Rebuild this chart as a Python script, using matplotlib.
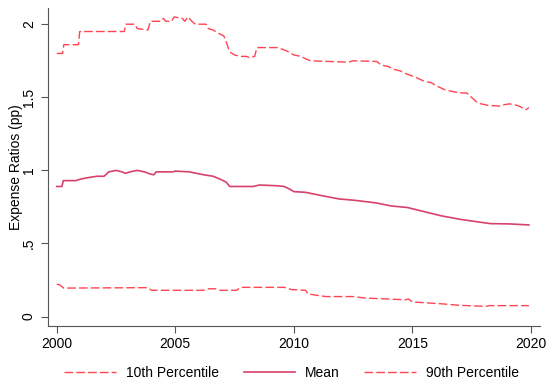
import numpy as np
import matplotlib
matplotlib.use("Agg")
import matplotlib.pyplot as plt

plt.rcParams['font.family'] = ['Liberation Sans', 'DejaVu Sans']

# 90th percentile (upper dashed line)
p90_year = [2000.0, 2000.25, 2000.3, 2000.92, 2000.97, 2002.85, 2002.92, 2003.3, 2003.4, 2003.85,
            2003.95, 2004.4, 2004.5, 2004.6, 2004.85, 2004.95, 2005.3, 2005.4, 2005.55, 2005.7,
            2005.85, 2006.3, 2006.4, 2006.6, 2006.8, 2007.05, 2007.15, 2007.3, 2007.5, 2007.75,
            2008.0, 2008.15, 2008.35, 2008.45, 2009.3, 2009.5, 2009.8, 2010.0, 2010.3, 2010.55,
            2010.7, 2012.3, 2012.5, 2013.5, 2013.7, 2014.0, 2014.25, 2014.5, 2014.75, 2015.1,
            2015.5, 2015.8, 2016.0, 2016.4, 2017.0, 2017.3, 2017.5, 2017.7, 2017.9, 2018.2,
            2018.7, 2018.9, 2019.1, 2019.3, 2019.5, 2019.8, 2019.92]
p90_val = [1.80, 1.80, 1.86, 1.86, 1.95, 1.95, 2.00, 2.00, 1.97, 1.96,
           2.02, 2.02, 2.04, 2.02, 2.02, 2.05, 2.04, 2.02, 2.05, 2.02,
           2.00, 2.00, 1.97, 1.96, 1.94, 1.92, 1.88, 1.81, 1.79, 1.78,
           1.78, 1.77, 1.78, 1.84, 1.84, 1.83, 1.81, 1.79, 1.78, 1.76,
           1.75, 1.74, 1.75, 1.745, 1.72, 1.71, 1.69, 1.68, 1.66, 1.64,
           1.61, 1.60, 1.58, 1.55, 1.53, 1.53, 1.50, 1.47, 1.455, 1.445,
           1.44, 1.45, 1.455, 1.45, 1.44, 1.415, 1.43]

# mean (solid line)
mean_year = [2000.0, 2000.22, 2000.28, 2000.8, 2001.0, 2001.3, 2001.7, 2002.0, 2002.2, 2002.5,
             2002.75, 2002.9, 2003.1, 2003.4, 2003.7, 2003.95, 2004.1, 2004.2, 2004.9, 2005.0,
             2005.6, 2005.9, 2006.2, 2006.6, 2006.9, 2007.15, 2007.3, 2008.3, 2008.55, 2009.3,
             2009.6, 2009.85, 2010.0, 2010.5, 2011.1, 2011.9, 2012.6, 2013.5, 2014.1, 2014.8,
             2015.5, 2016.2, 2017.0, 2017.85, 2018.3, 2019.1, 2019.92]
mean_val = [0.89, 0.89, 0.93, 0.93, 0.94, 0.95, 0.96, 0.96, 0.99, 1.00,
            0.99, 0.98, 0.99, 1.00, 0.99, 0.975, 0.97, 0.99, 0.99, 0.995,
            0.99, 0.98, 0.97, 0.96, 0.94, 0.92, 0.89, 0.89, 0.90, 0.895,
            0.89, 0.87, 0.855, 0.85, 0.83, 0.805, 0.795, 0.777, 0.757, 0.746,
            0.718, 0.69, 0.666, 0.646, 0.636, 0.634, 0.627]

# 10th percentile (lower dashed line)
p10_year = [2000.0, 2000.1, 2000.3, 2003.85, 2004.0, 2006.2, 2006.35, 2006.7, 2006.85, 2007.6,
            2007.75, 2009.6, 2009.9, 2010.5, 2010.6, 2011.2, 2011.4, 2012.5, 2013.0, 2014.0,
            2014.7, 2014.85, 2015.0, 2016.2, 2017.0, 2018.1, 2018.25, 2019.92]
p10_val = [0.22, 0.22, 0.195, 0.198, 0.18, 0.18, 0.19, 0.19, 0.18, 0.18,
           0.20, 0.20, 0.185, 0.18, 0.155, 0.14, 0.137, 0.137, 0.127, 0.12,
           0.115, 0.12, 0.10, 0.088, 0.077, 0.07, 0.075, 0.075]

x_ticks = [2000, 2005, 2010, 2015, 2020]
y_ticks = [0, 0.5, 1, 1.5, 2]
y_labels = ['0', '.5', '1', '1.5', '2']

dash_col = '#ff4452'
mean_col = '#d8416b'
grey = '#555555'

fig = plt.figure(figsize=(5.48, 3.8), dpi=100)
ax = fig.add_axes([0.087, 0.143, 0.898, 0.836])

l10, = ax.plot(p10_year, p10_val, color=dash_col, lw=1.0, dashes=(6.2, 2.3))
lm, = ax.plot(mean_year, mean_val, color=mean_col, lw=1.2)
l90, = ax.plot(p90_year, p90_val, color=dash_col, lw=1.0, dashes=(6.2, 2.3))

ax.set_xlim(1999.62, 2020.38)
ax.set_ylim(-0.062, 2.111)
ax.set_xticks(x_ticks)
ax.set_yticks(y_ticks)
ax.set_yticklabels(y_labels, rotation=90, va='center')
ax.set_ylabel('Expense Ratios (pp)', fontsize=10)
ax.yaxis.set_label_coords(-0.05, 0.5)

for s in ['top', 'right']:
    ax.spines[s].set_visible(False)
for s in ['left', 'bottom']:
    ax.spines[s].set_color(grey)
    ax.spines[s].set_linewidth(0.8)
ax.tick_params(colors=grey, labelcolor='black', labelsize=10, length=5, width=0.8, pad=3.5)

fig.legend([l10, lm, l90], ['10th Percentile', 'Mean', '90th Percentile'],
           loc='center', bbox_to_anchor=(0.532, 0.019), ncol=3, frameon=False,
           fontsize=10, handlelength=3.7, handletextpad=0.7, columnspacing=1.8)

fig.savefig('out.png', dpi=100)
